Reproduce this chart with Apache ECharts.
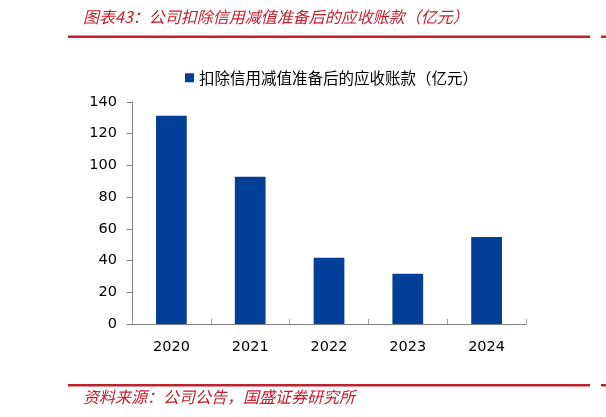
<!DOCTYPE html>
<html>
<head>
<meta charset="utf-8">
<title>图表43</title>
<script src="https://cdn.jsdelivr.net/npm/echarts@6/dist/echarts.min.js"></script>
<style>
	html, body { margin: 0; padding: 0; background: #fff; }
	#chart { width: 606px; height: 417px; }
</style>
</head>
<body>
<div id="chart"></div>
<script>
// 数据
var years = ['2020', '2021', '2022', '2023', '2024'];
var receivables = [131.3, 92.9, 41.8, 31.7, 54.9];
var seriesName = '扣除信用减值准备后的应收账款（亿元）';

var red = '#c0212e';
var cjk = '"Noto Sans CJK SC", sans-serif';

var chart = echarts.init(document.getElementById('chart'));
chart.setOption({
	animation : false,
	title : [ {
		text : '图表43：公司扣除信用减值准备后的应收账款（亿元）',
		left : 78,
		top : 4,
		textStyle : {
			color : red,
			fontSize : 16,
			fontStyle : 'italic',
			fontWeight : 'normal',
			fontFamily : cjk
		}
	}, {
		text : '资料来源：公司公告，国盛证券研究所',
		left : 78,
		top : 384,
		textStyle : {
			color : red,
			fontSize : 16,
			fontStyle : 'italic',
			fontWeight : 'normal',
			fontFamily : cjk
		}
	} ],
	graphic : [ // 顶部和底部的红线
		{ type : 'rect', shape : { x : 68, y : 35.5, width : 522, height : 2.5 }, style : { fill : red } },
		{ type : 'rect', shape : { x : 601, y : 35.5, width : 5, height : 2.5 }, style : { fill : red } },
		{ type : 'rect', shape : { x : 68, y : 384, width : 522, height : 2.5 }, style : { fill : red } },
		{ type : 'rect', shape : { x : 601, y : 384, width : 5, height : 2.5 }, style : { fill : red } }
	],
	legend : {
		data : [ seriesName ],
		left : 180,
		top : 65,
		icon : 'rect',
		itemWidth : 9,
		itemHeight : 9,
		textStyle : {
			color : '#000',
			fontSize : 15.5,
			fontFamily : cjk
		}
	},
	grid : {
		left : 132,
		right : 80,
		top : 102,
		bottom : 93,
		containLabel : false
	},
	xAxis : {
		type : 'category',
		data : years,
		axisLine : { lineStyle : { color : '#808080', width : 1 } },
		axisTick : { show : true, inside : true, length : 5, lineStyle : { color : '#a0a0a0' } },
		axisLabel : {
			color : '#000',
			fontSize : 14.5,
			margin : 16,
			fontFamily : '"DejaVu Sans", sans-serif'
		}
	},
	yAxis : {
		type : 'value',
		min : 0,
		max : 140,
		interval : 20,
		splitLine : { show : false },
		axisLine : { show : true, lineStyle : { color : '#808080', width : 1 } },
		axisTick : { show : true, length : 5, lineStyle : { color : '#808080' } },
		axisLabel : {
			color : '#000',
			fontSize : 14.5,
			margin : 15,
			fontFamily : '"DejaVu Sans", sans-serif'
		}
	},
	series : [ {
		name : seriesName,
		type : 'bar',
		data : receivables,
		barWidth : '39%',
		itemStyle : { color : '#003f98' }
	} ]
});
</script>
</body>
</html>
